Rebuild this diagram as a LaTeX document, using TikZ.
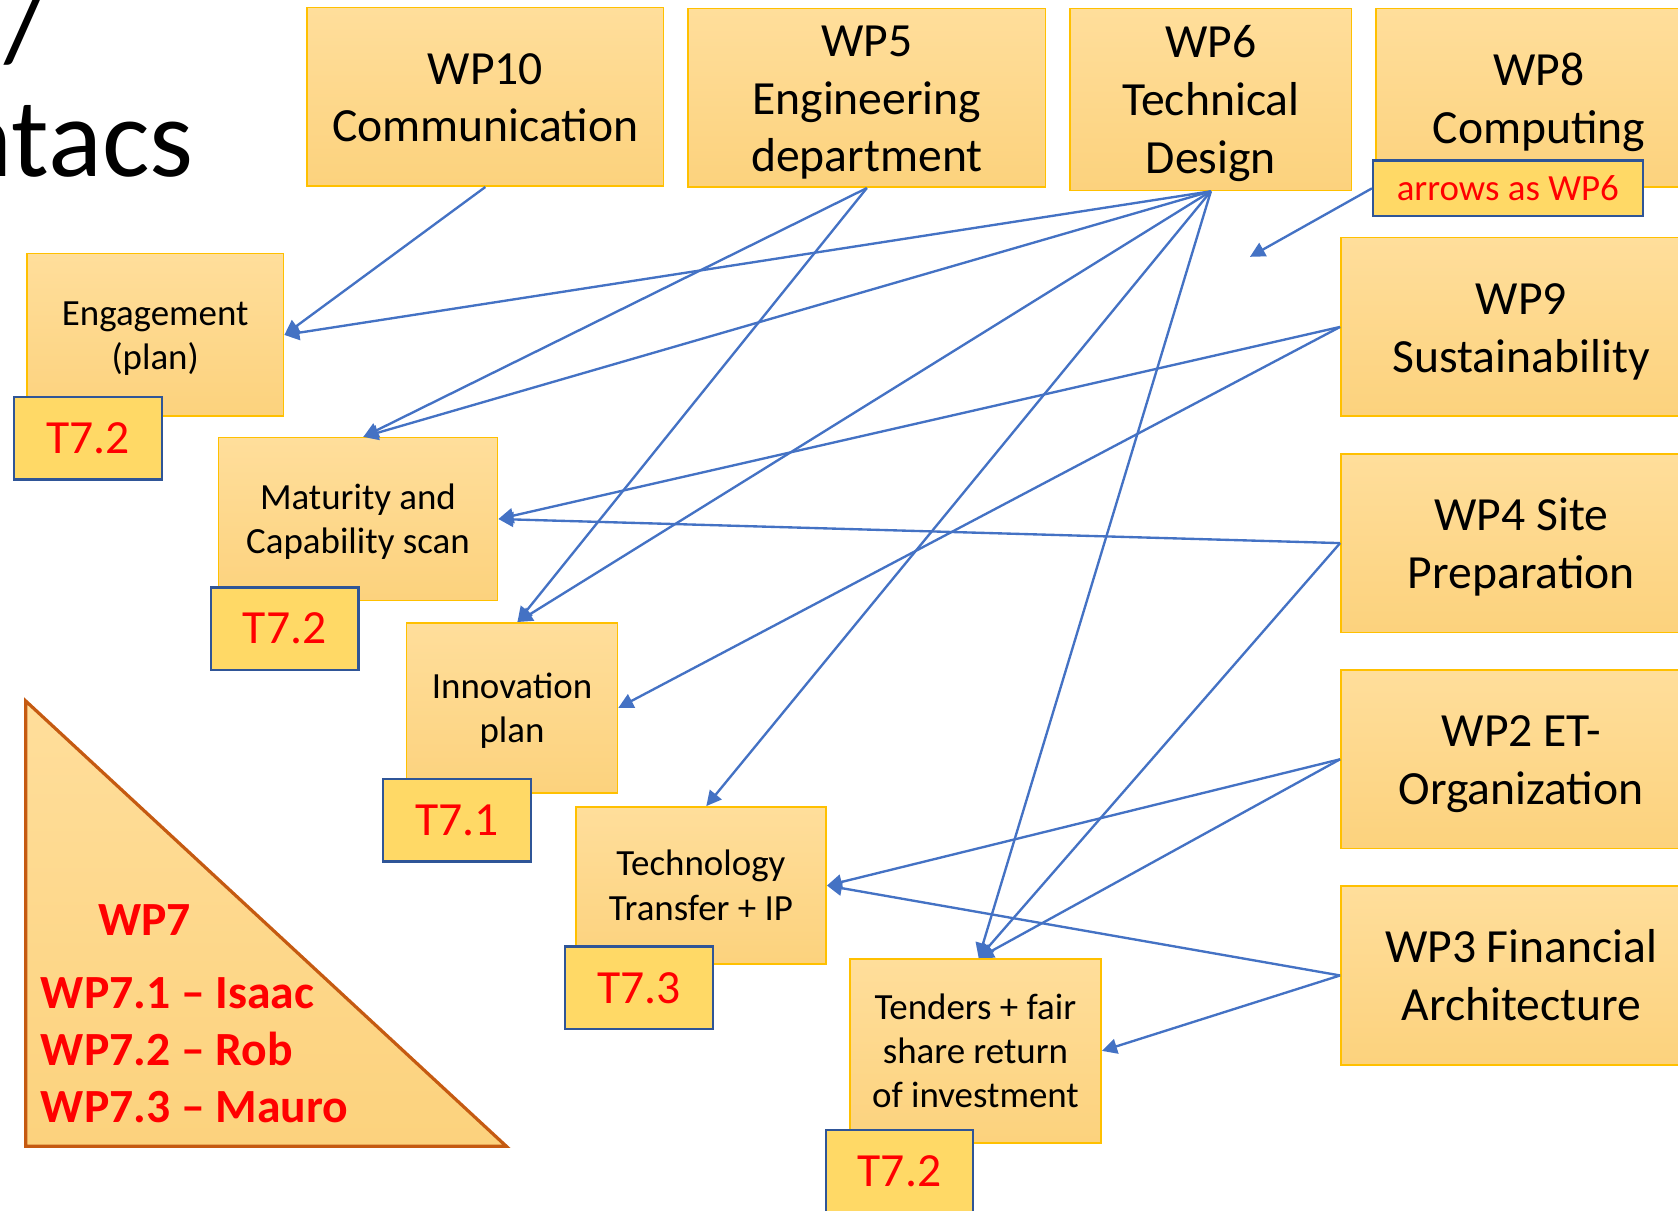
\documentclass[tikz,border=0pt]{standalone}
\usepackage{fontspec}
\setmainfont{Carlito}
\usetikzlibrary{arrows.meta}
\definecolor{boxtop}{RGB}{255,222,155}
\definecolor{boxbot}{RGB}{252,210,125}
\definecolor{boxline}{RGB}{255,192,0}
\definecolor{tfill}{RGB}{255,217,102}
\definecolor{tline}{RGB}{47,85,151}
\definecolor{arrowblue}{RGB}{68,114,196}
\definecolor{triline}{RGB}{197,90,17}
\definecolor{tred}{RGB}{255,0,0}
\newcommand{\topst}{\rule{0pt}{0.95em}}
\newcommand{\botst}{\rule[-0.27em]{0pt}{0pt}}
\begin{document}
\begin{tikzpicture}[x=1pt,y=-1pt,
 bigfont/.style={font=\fontsize{44.5}{54}\selectfont},
 smallfont/.style={font=\fontsize{34.5}{41.5}\selectfont},
 wpbox/.style={rectangle, draw=boxline, line width=1.5pt, top color=boxtop, bottom color=boxbot, align=center, inner sep=0pt},
 tbox/.style={rectangle, draw=tline, line width=2pt, fill=tfill, text=tred, inner sep=0pt, minimum width=138pt, minimum height=77pt, font=\fontsize{44.5}{54}\selectfont},
 link/.style={draw=arrowblue, line width=2.2pt, -{Triangle[length=14pt,width=14pt]}},
 tritext/.style={text=tred, font=\fontsize{44.5}{54}\selectfont\bfseries, inner sep=0pt},
 titletext/.style={font=\fontsize{105}{126}\selectfont, inner sep=0pt},
]
\useasboundingbox (0,0) rectangle (1568,1131);
\clip (0,0) rectangle (1568,1131);

% title fragments
\node[titletext, anchor=base east] (slash) at (45,57) {/};
\node[titletext, anchor=base east] (title) at (181,165) {ntacs};

% work package boxes
\node[wpbox, bigfont, minimum width=333pt, minimum height=167pt] (wp10) at (453.5,90.5) {\topst WP10\\Communication\botst};
\node[wpbox, bigfont, minimum width=334pt, minimum height=167pt] (wp5) at (810,91.5) {\topst WP5\\Engineering\\department\botst};
\node[wpbox, bigfont, minimum width=263pt, minimum height=170pt] (wp6) at (1131.5,93) {\topst WP6\\Technical\\Design\botst};
\node[wpbox, bigfont, minimum width=304pt, minimum height=167pt] (wp8) at (1438,91.5) {\topst WP8\\Computing\botst};
\node[wpbox, bigfont, minimum width=337pt, minimum height=167pt] (wp9) at (1421.5,305.5) {\topst WP9\\Sustainability\botst};
\node[wpbox, bigfont, minimum width=337pt, minimum height=167pt] (wp4) at (1421.5,507.5) {\topst WP4 Site\\Preparation\botst};
\node[wpbox, bigfont, minimum width=337pt, minimum height=167pt] (wp2) at (1421.5,709.5) {\topst WP2 ET-\\Organization\botst};
\node[wpbox, bigfont, minimum width=337pt, minimum height=167pt] (wp3) at (1421.5,911.5) {\topst WP3 Financial\\Architecture\botst};

% task boxes
\node[wpbox, smallfont, minimum width=240pt, minimum height=152pt] (eng) at (145,313) {\topst Engagement\\(plan)\botst};
\node[wpbox, smallfont, minimum width=261pt, minimum height=152pt] (mat) at (334.5,485) {\topst Maturity and\\Capability scan\botst};
\node[wpbox, smallfont, minimum width=197pt, minimum height=159pt] (inn) at (478.5,661.5) {\topst Innovation\\plan\botst};
\node[wpbox, smallfont, minimum width=234pt, minimum height=147pt] (tech) at (655,827.5) {\topst Technology\\Transfer + IP\botst};
\node[wpbox, smallfont, minimum width=235pt, minimum height=172pt] (ten) at (911.5,982) {\topst Tenders + fair\\share return\\of investment\botst};

% task labels
\node[tbox] (ta) at (82,409.5) {T7.2};
\node[tbox] (tb) at (266,587.5) {T7.2};
\node[tbox] (tc) at (427,766.5) {T7.1};
\node[tbox] (td) at (597,923) {T7.3};
\node[tbox] (te) at (840.5,1094.5) {T7.2};
\node[tbox, minimum width=252pt, minimum height=52pt, font=\fontsize{34.5}{41.5}\selectfont] (note) at (1409,176) {arrows as WP6};

% WP7 triangle
\draw[draw=triline, line width=3pt, top color=boxtop, bottom color=boxbot] (24,655) -- (24,1071) -- (473,1071) -- cycle;
\node[tritext] (wp7) at (135,860) {WP7};
\node[tritext, anchor=base west] (wp71) at (38,942) {WP7.1 – Isaac};
\node[tritext, anchor=base west] (wp72) at (38,996) {WP7.2 – Rob};
\node[tritext, anchor=base west] (wp73) at (38,1049) {WP7.3 – Mauro};

% connectors
\draw[link] (wp10.south) -- (eng.east);
\draw[link] (wp6.south) -- (eng.east);
\draw[link] (wp5.south) -- ([xshift=5pt]mat.north);
\draw[link] (wp6.south) -- ([xshift=5pt]mat.north);
\draw[link] (wp5.south) -- ([xshift=5pt]inn.north);
\draw[link] (wp6.south) -- ([xshift=5pt]inn.north);
\draw[link] (wp6.south) -- ([xshift=5pt]tech.north);
\draw[link] (wp6.south) -- ([xshift=3pt]ten.north);
\draw[link] (wp9.west) -- (mat.east);
\draw[link] (wp9.west) -- (inn.east);
\draw[link] (wp4.west) -- (mat.east);
\draw[link] (wp4.west) -- ([xshift=3pt]ten.north);
\draw[link] (wp2.west) -- (tech.east);
\draw[link] (wp2.west) -- ([xshift=3pt]ten.north);
\draw[link] (wp3.west) -- (tech.east);
\draw[link] (wp3.west) -- (ten.east);
\coordinate (free) at (1168,240);
\draw[link] (note.west) -- (free);
\end{tikzpicture}
\end{document}
